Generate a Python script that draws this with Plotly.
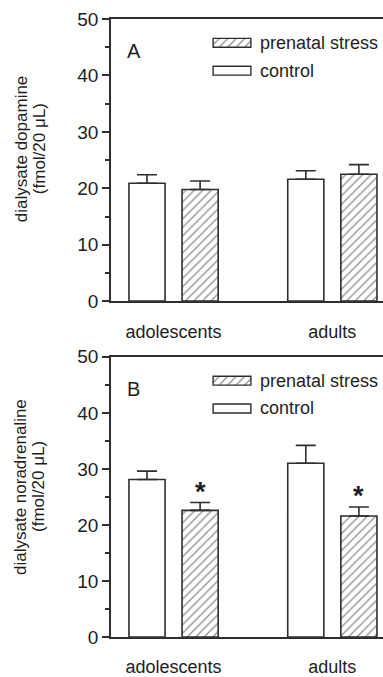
import plotly.graph_objects as go

# ---------------- data ----------------
groups = ["adolescents", "adults"]
series_names = ["control", "prenatal stress"]

# Panel A: dialysate dopamine
da_control = [20.9, 21.6]
da_control_err = [1.5, 1.5]
da_stress = [19.8, 22.5]
da_stress_err = [1.5, 1.7]

# Panel B: dialysate noradrenaline
na_control = [28.1, 31.0]
na_control_err = [1.5, 3.2]
na_stress = [22.6, 21.6]
na_stress_err = [1.4, 1.6]
na_significant = [True, True]   # asterisks on prenatal stress bars

panel_letters = ["A", "B"]
y_title_lines = [["dialysate dopamine", "(fmol/20 μL)"],
                 ["dialysate noradrenaline", "(fmol/20 μL)"]]
y_ticks = [0, 10, 20, 30, 40, 50]

# ---------------- layout geometry ----------------
W, H = 383, 677
ML, MR, MT, MB = 111, 0, 19, 36
PW = W - ML - MR
PH = H - MT - MB
FONT = "Liberation Sans, Arial, sans-serif"
TXT = "#1e1e1e"
LINE = "#2e2e2e"
LW = 1.6

def py(px):      # pixel y -> paper y
    return (H - MB - px) / PH

def pxx(px):     # pixel x -> paper x
    return (px - ML) / PW

panel_tops = [19, 359]
panel_bottoms = [303, 641]

fig = go.Figure()

hatch = dict(shape="/", fgcolor="#222222", bgcolor="white", size=6, solidity=0.22)

panels = [
    (da_control, da_control_err, da_stress, da_stress_err, [False, False]),
    (na_control, na_control_err, na_stress, na_stress_err, na_significant),
]

for i, (c, ce, s, se, sig) in enumerate(panels):
    xa = "x" if i == 0 else "x2"
    ya = "y" if i == 0 else "y2"
    fig.add_trace(go.Bar(
        x=groups, y=c, name=series_names[0], xaxis=xa, yaxis=ya,
        marker=dict(color="white", line=dict(color=LINE, width=LW)),
        error_y=dict(type="data", array=ce, arrayminus=[0] * len(ce), symmetric=False,
                     width=10, thickness=1.6, color=LINE),
        showlegend=False,
    ))
    fig.add_trace(go.Bar(
        x=groups, y=s, name=series_names[1], xaxis=xa, yaxis=ya,
        marker=dict(color="white", line=dict(color=LINE, width=LW), pattern=hatch),
        error_y=dict(type="data", array=se, arrayminus=[0] * len(se), symmetric=False,
                     width=10, thickness=1.6, color=LINE),
        showlegend=False,
    ))
    # asterisks
    for g, v, e, flag in zip(groups, s, se, sig):
        if flag:
            fig.add_annotation(x=g, y=v + e, xref=xa, yref=ya, text="<b>*</b>",
                               showarrow=False, xshift=26.5, yanchor="bottom", yshift=-6,
                               font=dict(family=FONT, size=27, color=TXT))

    # legend symbols on an auxiliary axis
    top = panel_tops[i]
    rows_px = [top + 24, top + 52]   # prenatal row, control row
    lx = "x%d" % (i + 3)
    ly = "y%d" % (i + 3)
    fig.add_trace(go.Bar(
        y=[1], x=[1], base=0, orientation="h", width=0.32, xaxis=lx, yaxis=ly,
        marker=dict(color="white", line=dict(color=LINE, width=1.4), pattern=hatch),
        showlegend=False, hoverinfo="skip"))
    fig.add_trace(go.Bar(
        y=[0], x=[1], base=0, orientation="h", width=0.32, xaxis=lx, yaxis=ly,
        marker=dict(color="white", line=dict(color=LINE, width=1.4)),
        showlegend=False, hoverinfo="skip"))
    dom_y = [py(rows_px[1] + 14), py(rows_px[0] - 14)]
    fig.layout["xaxis%d" % (i + 3)] = dict(domain=[pxx(212), pxx(252)], range=[-0.03, 1.03],
                                           visible=False, anchor=ly, fixedrange=True)
    fig.layout["yaxis%d" % (i + 3)] = dict(domain=dom_y, range=[-0.5, 1.5],
                                           visible=False, anchor=lx, fixedrange=True)
    for name, rp in zip([series_names[1], series_names[0]], rows_px):
        fig.add_annotation(x=pxx(258), y=py(rp), xref="paper", yref="paper",
                           text=name, showarrow=False, xanchor="left", yanchor="middle",
                           font=dict(family=FONT, size=18, color=TXT))
    # panel letter
    fig.add_annotation(x=pxx(125), y=py(top + 32), xref="paper", yref="paper",
                       text=panel_letters[i], showarrow=False, xanchor="left", yanchor="middle",
                       font=dict(family=FONT, size=20, color=TXT))
    # y title (two lines placed separately)
    for line_txt, xpix in zip(y_title_lines[i], [21, 39]):
        fig.add_annotation(x=pxx(xpix), y=py(top + 131), xref="paper", yref="paper",
                           text=line_txt, showarrow=False, textangle=-90,
                           xanchor="center", yanchor="middle",
                           font=dict(family=FONT, size=17, color=TXT))

xaxis_common = dict(range=[-0.394, 1.319], showline=True, linecolor=LINE, linewidth=LW,
                    mirror=True, ticks="", showgrid=False, zeroline=False,
                    ticklabelstandoff=13,
                    tickfont=dict(family=FONT, size=18, color=TXT))
yaxis_common = dict(range=[0, 50], tickvals=y_ticks, showline=True, linecolor=LINE,
                    linewidth=LW, ticks="outside", ticklen=7, tickwidth=LW, tickcolor=LINE,
                    minor=dict(dtick=5, ticks="outside", ticklen=4, tickwidth=LW, tickcolor=LINE),
                    showgrid=False, zeroline=False,
                    tickfont=dict(family=FONT, size=19, color=TXT))

fig.update_layout(
    width=W, height=H,
    margin=dict(l=ML, r=MR, t=MT, b=MB),
    paper_bgcolor="white", plot_bgcolor="white",
    barmode="group", bargap=0.331, bargroupgap=0.32,
    showlegend=False,
    xaxis=dict(domain=[0, 1], anchor="y", **xaxis_common),
    yaxis=dict(domain=[py(panel_bottoms[0]), py(panel_tops[0])], anchor="x", **yaxis_common),
    xaxis2=dict(domain=[0, 1], anchor="y2", **xaxis_common),
    yaxis2=dict(domain=[py(panel_bottoms[1]), py(panel_tops[1])], anchor="x2", **yaxis_common),
)

fig.write_html("out.html")
